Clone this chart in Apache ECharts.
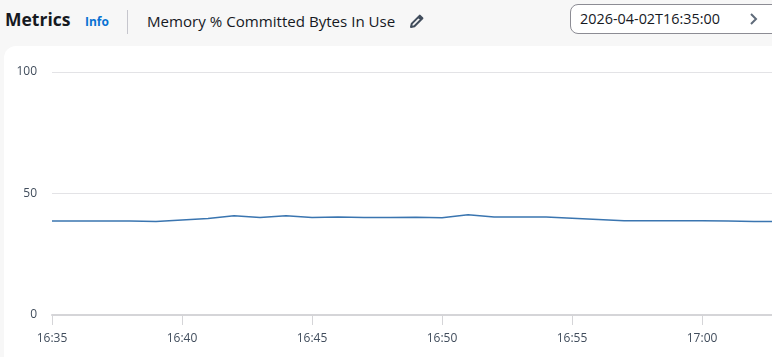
<!DOCTYPE html>
<html>
<head>
<meta charset="utf-8">
<script src="https://cdn.jsdelivr.net/npm/echarts@6/dist/echarts.min.js"></script>
<style>
  html, body { margin:0; padding:0; width:772px; height:357px; overflow:hidden; background:#f7f7f7; font-family:"Open Sans","Noto Sans",sans-serif; }
  #hdr { position:absolute; left:0; top:0; width:772px; height:46px; }
  #metrics { position:absolute; left:5px; top:7px; font-size:17.5px; font-weight:700; color:#16191f; }
  #info { position:absolute; left:85px; top:13px; font-size:12px; font-weight:700; color:#0972d3; }
  #div { position:absolute; left:127px; top:10px; width:1px; height:24px; background:#c6c6cd; }
  #title { position:absolute; left:147px; top:11px; font-size:15.1px; color:#16191f; white-space:nowrap; }
  #pencil { position:absolute; left:409px; top:13px; }
  #date { position:absolute; left:570px; top:4px; width:230px; height:28px; border:1px solid #8c8c94; border-radius:8px; background:#fff; }
  #datetext { position:absolute; left:9px; top:4px; font-size:14.4px; color:#16191f; white-space:nowrap; }
  #chev { position:absolute; left:178px; top:8px; }
  #panel { position:absolute; left:4px; top:46px; width:790px; height:330px; background:#fff; border-radius:12px; }
  #chart { position:absolute; left:4px; top:46px; width:768px; height:311px; }
</style>
</head>
<body>
<div id="hdr">
  <div id="metrics">Metrics</div>
  <div id="info">Info</div>
  <div id="div"></div>
  <div id="title">Memory % Committed Bytes In Use</div>
  <svg id="pencil" width="16" height="16" viewBox="0 0 16 16"><path d="M2 14 L2.8 10.6 L10.8 2.6 L13.4 5.2 L5.4 13.2 Z M9.4 4 L12 6.6" fill="none" stroke="#414d5c" stroke-width="2" stroke-linejoin="round"/></svg>
  <div id="date"><div id="datetext">2026-04-02T16:35:00</div>
    <svg id="chev" width="10" height="12" viewBox="0 0 10 12"><path d="M2 1 L7 6 L2 11" fill="none" stroke="#5f6b7a" stroke-width="2"/></svg>
  </div>
</div>
<div id="panel"></div>
<div id="chart"></div>
<script>
const times = ["16:35","16:36","16:37","16:38","16:39","16:40","16:41","16:42","16:43","16:44",
               "16:45","16:46","16:47","16:48","16:49","16:50","16:51","16:52","16:53","16:54",
               "16:55","16:56","16:57","16:58","16:59","17:00","17:01","17:02","17:03"];
const memoryPct = [38.7,38.7,38.7,38.7,38.5,39.1,39.7,40.8,40.1,40.8,
                   40.1,40.3,40.1,40.1,40.2,40.0,41.3,40.3,40.3,40.3,
                   39.8,39.3,38.8,38.8,38.8,38.8,38.7,38.5,38.4];
const yTicks = [0, 50, 100];
const startTime = "16:35";
const viewEndMinutes = 27.69;

function toMin(t){ const [h,m]=t.split(':').map(Number); const [h0,m0]=startTime.split(':').map(Number); return (h*60+m)-(h0*60+m0); }
function toLabel(v){ const [h0,m0]=startTime.split(':').map(Number); const t=h0*60+m0+Math.round(v); const h=Math.floor(t/60), m=t%60; return h+':' + String(m).padStart(2,'0'); }

const chart = echarts.init(document.getElementById('chart'), null, {renderer:'canvas'});
chart.setOption({
  animation:false,
  grid:{left:48, top:26, right:0, bottom:42, containLabel:false},
  xAxis:{
    type:'value', min:0, max:viewEndMinutes, interval:5,
    axisLine:{show:true, lineStyle:{color:'#d5d5d8', width:2}},
    axisTick:{show:true, length:10, lineStyle:{color:'#d5d5d8', width:1}},
    axisLabel:{color:'#414d5c', fontSize:12, fontFamily:'Open Sans', margin:18, formatter:toLabel, showMaxLabel:false},
    splitLine:{show:false}
  },
  yAxis:{
    type:'value', min:yTicks[0], max:yTicks[yTicks.length-1], interval:50,
    axisLine:{show:false}, axisTick:{show:false},
    axisLabel:{color:'#414d5c', fontSize:12, fontFamily:'Open Sans', margin:15},
    splitLine:{show:true, lineStyle:{color:'#e3e3e6', width:1}}
  },
  series:[{
    type:'line', symbol:'none', clip:true,
    data: times.map((t,i)=>[toMin(t), memoryPct[i]]),
    lineStyle:{color:'#3a75b0', width:1.5}
  }]
});
</script>
</body>
</html>
